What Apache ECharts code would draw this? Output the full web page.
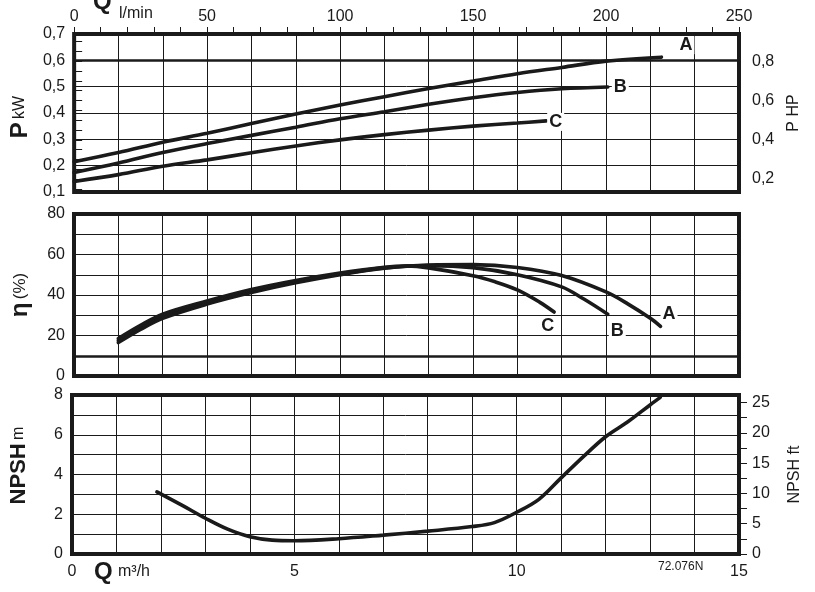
<!DOCTYPE html>
<html>
<head>
<meta charset="utf-8">
<script src="https://cdn.jsdelivr.net/npm/echarts@6/dist/echarts.min.js"></script>
<style>
html,body{margin:0;padding:0;background:#fff;}
#chart{width:815px;height:592px;}
</style>
</head>
<body>
<div id="chart"></div>
<script>
// ---------- data (Q in m3/h) ----------
const KW_PER_HP = 0.7457;
const FT_PER_M = 3.2808;

const qLabelsM3h = [0, 5, 10, 15];
const qLabelsLmin = [0, 50, 100, 150, 200, 250];
const hpLabels = [0.2, 0.4, 0.6, 0.8];
const hpTicks = [0.15, 0.2, 0.25, 0.3, 0.35, 0.4, 0.45, 0.5, 0.55, 0.6, 0.65, 0.7, 0.75, 0.8, 0.85, 0.9];
const ftLabels = [0, 5, 10, 15, 20, 25];
const ftTicks = [0, 2.5, 5, 7.5, 10, 12.5, 15, 17.5, 20, 22.5, 25];

// Power P (kW)
const qP_A = [0, 1, 2, 3, 4, 5, 6, 7, 8, 9, 10, 11, 12, 13.25];
const pA   = [0.215, 0.25, 0.289, 0.323, 0.36, 0.396, 0.43, 0.462, 0.493, 0.521, 0.549, 0.573, 0.597, 0.612];
const qP_B = [0, 1, 2, 3, 4, 5, 6, 7, 8, 9, 10, 11, 12.04];
const pB   = [0.174, 0.21, 0.25, 0.284, 0.315, 0.346, 0.378, 0.405, 0.433, 0.458, 0.478, 0.492, 0.499];
const qP_C = [0, 1, 2, 3, 4, 5, 6, 7, 8, 9, 10, 10.65];
const pC   = [0.14, 0.166, 0.198, 0.222, 0.249, 0.275, 0.298, 0.318, 0.335, 0.35, 0.362, 0.37];

// Efficiency (%)
const qE_A = [1, 1.5, 2, 3, 4, 5, 6, 7, 8, 9, 10, 11, 12, 12.5, 13, 13.23];
const eA   = [16.5, 23, 28.5, 35.5, 41.2, 46, 50, 53.2, 54.8, 55, 53.6, 49.6, 41.5, 35.5, 28.5, 24.5];
const qE_B = [1, 1.5, 2, 3, 4, 5, 6, 7, 8, 9, 10, 11, 11.5, 12.04];
const eB   = [17.5, 24, 29.5, 36.3, 42, 46.6, 50.4, 53.4, 54.5, 53.5, 50, 44, 38, 30.5];
const qE_C = [1, 1.5, 2, 3, 4, 5, 6, 7, 7.5, 8, 9, 9.5, 10, 10.5, 10.83];
const eC   = [18.5, 25, 30.5, 37, 42.7, 47.2, 50.9, 53.7, 54.3, 53.4, 49.5, 46.5, 42.5, 36.5, 31.6];

// NPSH (m)
const qN   = [1.91, 2.5, 3, 3.5, 4, 4.5, 5, 6, 7, 8, 9, 9.5, 10, 10.5, 11, 11.5, 12, 12.5, 13, 13.23];
const npsh = [3.13, 2.42, 1.8, 1.25, 0.87, 0.7, 0.67, 0.77, 0.95, 1.15, 1.38, 1.58, 2.1, 2.75, 3.83, 4.9, 5.9, 6.65, 7.5, 7.88];

const boldRefP = 0.6;
const boldRefEta = 10;

// ---------- helpers ----------
const zip = (xs, ys) => xs.map((x, i) => [x, ys[i]]);
const FONT = "'Liberation Sans', Arial, Helvetica, sans-serif";
const INK = '#1a1a1a';
const gridLine = { show: true, lineStyle: { color: INK, width: 1 } };
const lblBase = { color: INK, fontSize: 16, fontFamily: FONT };

const chart = echarts.init(document.getElementById('chart'), null, { renderer: 'canvas' });

const gridBase = { left: 72, right: 76, show: true, borderColor: INK, borderWidth: 4, backgroundColor: '#fff', containLabel: false };

function curve(name, xi, yi, data, label, offset, extra) {
  return Object.assign({
    name: name, type: 'line', xAxisIndex: xi, yAxisIndex: yi,
    data: data, smooth: 0.35, showSymbol: false, symbol: 'none',
    lineStyle: { color: INK, width: 3.6, cap: 'round' },
    z: 5,
    endLabel: label ? {
      show: true, formatter: label, offset: offset,
      fontFamily: FONT, fontSize: 18, fontWeight: 'bold', color: INK,
      backgroundColor: '#fff', padding: [0, 2]
    } : undefined
  }, extra || {});
}

const refLine = (axisVal) => ({
  silent: true, symbol: 'none', label: { show: false },
  lineStyle: { color: INK, width: 2.5, type: 'solid' },
  data: [{ yAxis: axisVal }]
});

const option = {
  backgroundColor: '#fff',
  animation: false,
  grid: [
    Object.assign({ top: 34, height: 158 }, gridBase),
    Object.assign({ top: 214, height: 162 }, gridBase),
    Object.assign({ top: 395, height: 159 }, gridBase)
  ],
  xAxis: [
    { gridIndex: 0, type: 'value', min: 0, max: 15, interval: 1,
      axisLabel: { show: false }, axisTick: { show: false }, axisLine: { show: false }, splitLine: gridLine },
    { gridIndex: 0, type: 'value', position: 'top', min: 0, max: 250, interval: 50,
      axisLabel: Object.assign({ margin: 9 }, lblBase),
      axisTick: { show: true, length: 7, lineStyle: { color: INK, width: 1 } },
      minorTick: { show: true, splitNumber: 5, length: 7, lineStyle: { color: INK, width: 1 } },
      axisLine: { show: false }, splitLine: { show: false } },
    { gridIndex: 1, type: 'value', min: 0, max: 15, interval: 1,
      axisLabel: { show: false }, axisTick: { show: false }, axisLine: { show: false }, splitLine: gridLine },
    { gridIndex: 2, type: 'value', min: 0, max: 15, interval: 1,
      axisLabel: Object.assign({ margin: 10, formatter: v => qLabelsM3h.includes(v) ? String(v) : '' }, lblBase),
      axisTick: { show: false }, axisLine: { show: false }, splitLine: gridLine }
  ],
  yAxis: [
    { gridIndex: 0, type: 'value', min: 0.1, max: 0.7, interval: 0.1,
      axisLabel: Object.assign({ margin: 9, formatter: v => v.toFixed(1).replace('.', ',') }, lblBase),
      axisTick: { show: false }, axisLine: { show: false }, splitLine: gridLine,
      name: '{b|P} {s|kW}', nameLocation: 'middle', nameGap: 42, nameRotate: 90,
      nameTextStyle: { padding: [0, 0, 0, -8], rich: {
        b: { fontFamily: FONT, fontSize: 24, fontWeight: 'bold', color: INK },
        s: { fontFamily: FONT, fontSize: 16, color: INK } } } },
    { gridIndex: 0, type: 'value', position: 'right', min: 0.1 / KW_PER_HP, max: 0.7 / KW_PER_HP,
      axisLabel: Object.assign({ margin: 13, customValues: hpLabels, formatter: v => v.toFixed(1).replace('.', ',') }, lblBase),
      axisTick: { show: true, customValues: hpTicks, length: 8, lineStyle: { color: INK, width: 1 } },
      axisLine: { show: false }, splitLine: { show: false },
      name: 'P HP', nameLocation: 'middle', nameGap: 46, nameRotate: 90,
      nameTextStyle: { fontFamily: FONT, fontSize: 16, color: INK } },
    { gridIndex: 1, type: 'value', min: 0, max: 80, interval: 10,
      axisLabel: Object.assign({ margin: 9, formatter: v => (v % 20 === 0 ? String(v) : '') }, lblBase),
      axisTick: { show: false }, axisLine: { show: false }, splitLine: gridLine,
      name: '{b|η} {s|(%)}', nameLocation: 'middle', nameGap: 42, nameRotate: 90,
      nameTextStyle: { rich: {
        b: { fontFamily: FONT, fontSize: 24, fontWeight: 'bold', color: INK },
        s: { fontFamily: FONT, fontSize: 17, color: INK } } } },
    { gridIndex: 2, type: 'value', min: 0, max: 8, interval: 1,
      axisLabel: Object.assign({ margin: 9, formatter: v => (v % 2 === 0 ? String(v) : '') }, lblBase),
      axisTick: { show: false }, axisLine: { show: false }, splitLine: gridLine,
      name: '{b|NPSH} {s|m}', nameLocation: 'middle', nameGap: 42, nameRotate: 90,
      nameTextStyle: { padding: [0, 0, 0, 18], rich: {
        b: { fontFamily: FONT, fontSize: 22, fontWeight: 'bold', color: INK },
        s: { fontFamily: FONT, fontSize: 16, color: INK } } } },
    { gridIndex: 2, type: 'value', position: 'right', min: 0, max: 8 * FT_PER_M,
      axisLabel: Object.assign({ margin: 13, customValues: ftLabels }, lblBase),
      axisTick: { show: true, customValues: ftTicks, length: 8, lineStyle: { color: INK, width: 1 } },
      axisLine: { show: false }, splitLine: { show: false },
      name: 'NPSH ft', nameLocation: 'middle', nameGap: 48, nameRotate: 90,
      nameTextStyle: { fontFamily: FONT, fontSize: 16, color: INK } }
  ],
  graphic: [
    { type: 'text', left: 93, top: -10, style: { text: 'Q', font: "bold 24px 'Liberation Sans', Arial", fill: INK } },
    { type: 'text', left: 119, top: 6, style: { text: 'l/min', font: "16px 'Liberation Sans', Arial", fill: INK } },
    { type: 'text', left: 94, top: 560, style: { text: 'Q', font: "bold 24px 'Liberation Sans', Arial", fill: INK } },
    { type: 'text', left: 118, top: 564, style: { text: 'm³/h', font: "16px 'Liberation Sans', Arial", fill: INK } },
    { type: 'text', left: 658, top: 561, style: { text: '72.076N', font: "12px 'Liberation Sans', Arial", fill: INK } }
  ],
  series: [
    curve('P A', 0, 0, zip(qP_A, pA), 'A', [8, -12], { markLine: refLine(boldRefP) }),
    curve('P B', 0, 0, zip(qP_B, pB), 'B', [-4, 0]),
    curve('P C', 0, 0, zip(qP_C, pC), 'C', [-7, 1]),
    curve('η A', 2, 2, zip(qE_A, eA), 'A', [-8, -12], { markLine: refLine(boldRefEta) }),
    curve('η B', 2, 2, zip(qE_B, eB), 'B', [-7, 17]),
    curve('η C', 2, 2, zip(qE_C, eC), 'C', [-23, 14]),
    curve('NPSH', 3, 3, zip(qN, npsh), null, null)
  ]
};

chart.setOption(option);
</script>
</body>
</html>
